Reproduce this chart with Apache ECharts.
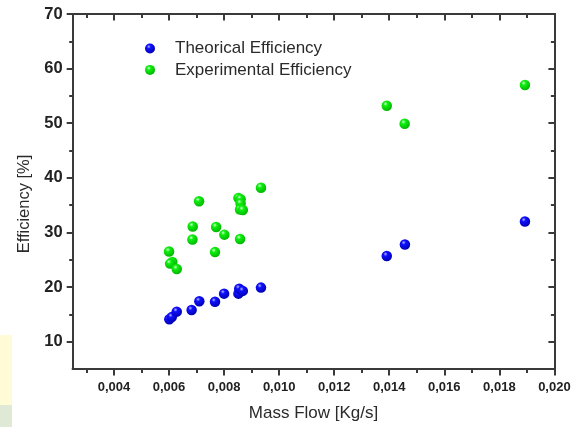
<!DOCTYPE html>
<html>
<head>
<meta charset="utf-8">
<script src="https://cdn.jsdelivr.net/npm/echarts@6/dist/echarts.min.js"></script>
<style>
html,body{margin:0;padding:0;background:#fff;}
#chart{width:579px;height:427px;}
</style>
</head>
<body>
<div id="chart"></div>
<script>
// Mass flow [kg/s] and efficiency [%]
const theoricalX = [0.00601, 0.00610, 0.00628, 0.00682, 0.00710, 0.00767, 0.00800, 0.00852, 0.00855, 0.00868, 0.00934, 0.01391, 0.01457, 0.01893];
const theoricalY = [14.1, 14.5, 15.5, 15.8, 17.4, 17.3, 18.8, 18.8, 19.7, 19.3, 19.9, 25.7, 27.8, 32.0];
const experimentalX = [0.00600, 0.00612, 0.00604, 0.00628, 0.00685, 0.00686, 0.00709, 0.00767, 0.00771, 0.00801, 0.00858, 0.00852, 0.00860, 0.00860, 0.00858, 0.00868, 0.00934, 0.01391, 0.01456, 0.01893];
const experimentalY = [26.5, 24.6, 24.3, 23.3, 28.7, 31.1, 35.7, 26.4, 31.0, 29.6, 28.8, 36.3, 36.1, 35.3, 34.2, 34.1, 38.2, 53.2, 49.9, 57.0];
const xMajorTicks = [0.004, 0.006, 0.008, 0.010, 0.012, 0.014, 0.016, 0.018, 0.020];
const xMinorTicks = [0.003, 0.005, 0.007, 0.009, 0.011, 0.013, 0.015, 0.017, 0.019];
const yMajorTicks = [10, 20, 30, 40, 50, 60, 70];
const yMinorTicks = [15, 25, 35, 45, 55, 65];

const FONT = '"Liberation Sans", Arial, sans-serif';
const AXC = '#3a3a3a';

function ball(light, mid, dark) {
  return {type:'radial', x:0.38, y:0.32, r:0.7,
    colorStops:[{offset:0,color:light},{offset:0.28,color:mid},{offset:1,color:dark}]};
}
function pairs(xs, ys){ return xs.map((x,i)=>[x, ys[i]]); }

const X_MIN = 0.0025, X_MAX = 0.020, Y_MIN = 5, Y_MAX = 70;

function xAx(pos, ticks, len, inside, labels, extra) {
  return Object.assign({
    type:'value', position:pos, min:X_MIN, max:X_MAX,
    axisLine:{show:true, lineStyle:{color:AXC, width:2}},
    axisTick:{show:true, customValues:ticks, length:len, inside:inside, lineStyle:{color:AXC, width:2}},
    axisLabel:labels ? {show:true, customValues:ticks, margin:12,
      formatter:v=>v.toFixed(3).replace('.', ','),
      fontFamily:FONT, fontWeight:'bold', fontSize:13, color:'#222'} : {show:false},
    splitLine:{show:false}
  }, extra || {});
}
function yAx(pos, ticks, len, inside, labels) {
  return {
    type:'value', position:pos, min:Y_MIN, max:Y_MAX,
    axisLine:{show:true, lineStyle:{color:AXC, width:2}},
    axisTick:{show:true, customValues:ticks, length:len, inside:inside, lineStyle:{color:AXC, width:2}},
    axisLabel:labels ? {show:true, customValues:ticks, margin:10,
      fontFamily:FONT, fontWeight:'bold', fontSize:16.5, color:'#222'} : {show:false},
    splitLine:{show:false}
  };
}

const chart = echarts.init(document.getElementById('chart'), null, {renderer:'canvas'});
chart.setOption({
  animation:false,
  backgroundColor:'#ffffff',
  grid:{left:72.7, right:24.6, top:14, bottom:55.2, containLabel:false},
  legend:{
    orient:'vertical', left:140, top:35, itemGap:4.4,
    itemWidth:10, itemHeight:10, icon:'circle',
    textStyle:{fontFamily:FONT, fontSize:17, color:'#2a2a2a', lineHeight:17, padding:[0,0,0,15]},
    data:['Theorical Efficiency','Experimental Efficiency']
  },
  xAxis:[
    xAx('bottom', xMajorTicks, 6.5, false, true, {
      name:'Mass Flow [Kg/s]', nameLocation:'middle', nameGap:36,
      nameTextStyle:{fontFamily:FONT, fontSize:17, color:'#2a2a2a'}
    }),
    xAx('bottom', xMinorTicks, 4, false, false),
    xAx('top', xMajorTicks, 6.5, true, false),
    xAx('top', xMinorTicks, 4, true, false)
  ],
  yAxis:[
    yAx('left', yMajorTicks, 6, false, true),
    yAx('left', yMinorTicks, 3.5, false, false),
    yAx('right', yMajorTicks, 6, true, false),
    yAx('right', yMinorTicks, 3.5, true, false)
  ],
  graphic:[
    {type:'text', x:24, y:204, rotation:Math.PI/2,
      style:{text:'Efficiency [%]', font:'16.5px ' + FONT, fill:'#2a2a2a',
        textAlign:'center', textVerticalAlign:'middle'}},
    {type:'rect', shape:{x:0, y:335, width:12, height:70}, style:{fill:'#fffbd6'}, z:-1},
    {type:'rect', shape:{x:0, y:405, width:12, height:22}, style:{fill:'#dfe9d6'}, z:-1}
  ],
  series:[
    {name:'Theorical Efficiency', type:'scatter', xAxisIndex:0, yAxisIndex:0,
      symbol:'circle', symbolSize:10.5, data:pairs(theoricalX, theoricalY),
      itemStyle:{color:ball('#b8b8ff','#1010ff','#0000b0'), opacity:1}},
    {name:'Experimental Efficiency', type:'scatter', xAxisIndex:0, yAxisIndex:0,
      symbol:'circle', symbolSize:10.5, data:pairs(experimentalX, experimentalY),
      itemStyle:{color:ball('#d8ffd8','#10f010','#00b400'), opacity:1}}
  ]
});
</script>
</body>
</html>
